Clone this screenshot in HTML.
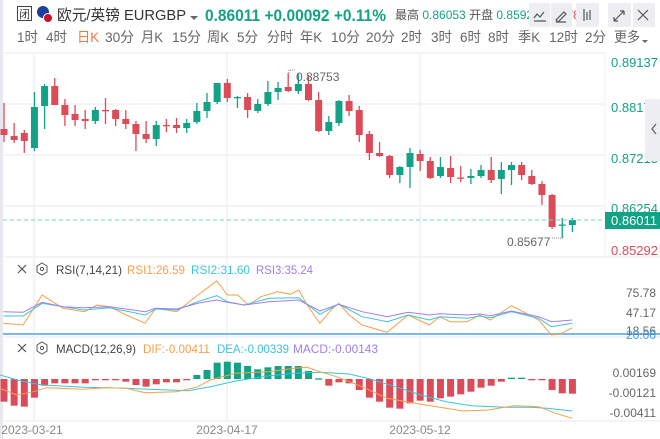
<!DOCTYPE html>
<html><head><meta charset="utf-8"><style>
body{margin:0;width:660px;height:439px;overflow:hidden;background:#fff;font-family:"Liberation Sans","Noto Sans CJK SC",sans-serif;}
svg{position:absolute;left:0;top:0}
</style></head><body>
<svg id="s" width="660" height="439" xmlns="http://www.w3.org/2000/svg" font-family="Liberation Sans, Noto Sans CJK SC, sans-serif">
<rect x="0" y="0" width="3" height="439" fill="#e6e8ee"/>
<rect x="17.5" y="6.5" width="14" height="14" fill="none" stroke="#444" stroke-width="1"/>
<text x="24.5" y="18" font-size="11" text-anchor="middle" fill="#333">闭</text>
<circle cx="43" cy="12" r="6" fill="#1d3f9a"/>
<circle cx="48" cy="18" r="4.5" fill="#c8102e" stroke="#fff" stroke-width="1"/>
<text x="57" y="20" font-size="15" fill="#333" textLength="129" lengthAdjust="spacingAndGlyphs">欧元/英镑 EURGBP</text>
<path d="M190 16 l4 4 l4 -4z" fill="#666"/>
<text x="205" y="21" font-size="17" font-weight="bold" fill="#12a386" textLength="181" lengthAdjust="spacingAndGlyphs">0.86011 +0.00092 +0.11%</text>
<text x="395" y="19" font-size="12" fill="#555">最高 <tspan fill="#12a386">0.86053</tspan> 开盘 <tspan fill="#12a386">0.85920</tspan> <tspan fill="#dc4b58">0.85784</tspan></text>
<g fill="#eceef2"><rect x="529" y="3" width="21" height="24" rx="2"/><rect x="551" y="3" width="21" height="24" rx="2"/><rect x="576" y="3" width="23" height="24" rx="2"/><rect x="608" y="3" width="23" height="24" rx="2"/><rect x="633" y="3" width="22" height="24" rx="2"/></g>
<g stroke="#555" stroke-width="1.2" fill="none"><path d="M534 18l3-4 3 3 4-5M534 21h12"/><path d="M556 20l8-8 2 2-8 8zM556 22h10"/><path d="M584 9v12M587 12v8M590 10v10"/><path d="M614 21l10-10M614 21v-4M614 21h4M624 11h-4M624 11v4"/><path d="M638 10l10 10M648 10l-10 10"/></g>
<g font-size="14" fill="#666" id="tabs"></g>
<g stroke="#eef0f4" stroke-width="1.5"><line x1="3" y1="53" x2="605" y2="53"/><line x1="3" y1="104" x2="605" y2="104"/><line x1="3" y1="155" x2="605" y2="155"/><line x1="3" y1="206" x2="605" y2="206"/><line x1="3" y1="257" x2="660" y2="257"/>
<line x1="34" y1="53" x2="34" y2="420"/><line x1="227" y1="53" x2="227" y2="420"/><line x1="420" y1="53" x2="420" y2="420"/><line x1="3" y1="337" x2="660" y2="337"/><line x1="3" y1="421" x2="660" y2="421"/></g>
<line x1="605" y1="53" x2="605" y2="257" stroke="#eef0f4"/>
<g id="candles"></g>
<line x1="3" y1="220" x2="605" y2="220" stroke="#6fd6c0" stroke-dasharray="4,3"/>
<rect x="605" y="212" width="55" height="17" fill="#12a386"/>
<text x="611" y="225" font-size="13" fill="#fff">0.86011</text>
<g font-size="13" fill="#12a386"><text x="611" y="67">0.89137</text><text x="611" y="112">0.88176</text><text x="611" y="163">0.87215</text><text x="611" y="213">0.86254</text></g>
<text x="611" y="255" font-size="13" fill="#dc4b58">0.85292</text>
<rect x="645" y="99" width="15" height="62" fill="#eceef2"/><path d="M656 124l-4 5 4 5" stroke="#666" fill="none" stroke-width="1.3"/>
<text x="296" y="81" font-size="12" fill="#666">0.88753</text><path d="M289 73v-3h6" stroke="#888" stroke-dasharray="1,1" fill="none"/>
<text x="507" y="246" font-size="12" fill="#666">0.85677</text><path d="M552 238h11v-2" stroke="#888" stroke-dasharray="1,1" fill="none"/>
<g font-size="12"><path d="M18 265l8 8M26 265l-8 8" stroke="#555" stroke-width="1.2"/><path d="M42 263l5 3v6l-5 3-5-3v-6z" fill="none" stroke="#555"/><circle cx="42" cy="269" r="1.6" fill="none" stroke="#555"/>
<text x="56" y="274" fill="#444" textLength="66" lengthAdjust="spacingAndGlyphs">RSI(7,14,21)</text><text x="127" y="274" fill="#f7a04b" textLength="58" lengthAdjust="spacingAndGlyphs">RSI1:26.59</text><text x="191" y="274" fill="#3cc3dc" textLength="59" lengthAdjust="spacingAndGlyphs">RSI2:31.60</text><text x="256" y="274" fill="#a27fe6" textLength="57" lengthAdjust="spacingAndGlyphs">RSI3:35.24</text>
<path d="M18 344l8 8M26 344l-8 8" stroke="#555" stroke-width="1.2"/><path d="M42 342l5 3v6l-5 3-5-3v-6z" fill="none" stroke="#555"/><circle cx="42" cy="348" r="1.6" fill="none" stroke="#555"/>
<text x="56" y="353" fill="#444" textLength="80" lengthAdjust="spacingAndGlyphs">MACD(12,26,9)</text><text x="143" y="353" fill="#f7a04b" textLength="67" lengthAdjust="spacingAndGlyphs">DIF:-0.00411</text><text x="217" y="353" fill="#3cc3dc" textLength="72" lengthAdjust="spacingAndGlyphs">DEA:-0.00339</text><text x="293" y="353" fill="#a27fe6" textLength="85" lengthAdjust="spacingAndGlyphs">MACD:-0.00143</text></g>
<line x1="3" y1="334" x2="660" y2="334" stroke="#7cb8ee" stroke-width="2"/>
<g font-size="12" fill="#666" text-anchor="end"><text x="656" y="297">75.78</text><text x="656" y="317">47.17</text><text x="656" y="335">18.56</text><text x="656" y="377">0.00169</text><text x="656" y="397">-0.00121</text><text x="656" y="417">-0.00411</text></g>
<text x="656" y="339" font-size="12" fill="#3ca0ee" text-anchor="end">20.00</text>
<g id="ind"></g>
<g font-size="12" fill="#888" text-anchor="middle"><text x="32" y="434">2023-03-21</text><text x="227" y="434">2023-04-17</text><text x="420" y="434">2023-05-12</text></g>
</svg>
<script>
const NS="http://www.w3.org/2000/svg";
function el(p,t,a,txt){const e=document.createElementNS(NS,t);for(const k in a)e.setAttribute(k,a[k]);if(txt)e.textContent=txt;p.appendChild(e);return e;}
const tabs=[["1时",17],["4时",46],["日K",77],["30分",105],["月K",141],["15分",172],["周K",207],["5分",237],["分时",267],["年K",300],["10分",331],["20分",366],["2时",401],["3时",431],["6时",460],["8时",488],["季K",518],["12时",549],["2分",585],["更多",614]];
const tg=document.getElementById("tabs");
tabs.forEach(([t,x])=>{let w=0;for(const ch of t){w+=/\d/.test(ch)?8:(ch=="K"?9:13);}el(tg,"text",{x:x,y:42,fill:t=="日K"?"#f5753c":"#666",textLength:w,lengthAdjust:"spacingAndGlyphs"},t)});
el(tg,"path",{d:"M642 40l3 3 3-3z",fill:"#666"});
const C=[["r",103,142,129,135],["r",123,143,136,140],["r",130,153,133,141],["g",92,151,107,148],["g",84,129,86,106],["r",78,105,86,105],["r",99,126,105,115],["r",105,126,114,120],["r",110,129,119,121],["g",107,124,110,121],["r",98,124,110,111],["r",109,126,110,119],["r",110,129,119,124],["r",121,151,124,134],["r",121,143,134,139],["g",121,146,125,139],["r",119,132,125,126],["r",118,133,125,128],["g",119,133,123,128],["g",103,124,111,122],["g",93,118,102,111],["g",83,104,83,102],["r",79,102,83,98],["g",96,108,97,98],["r",93,118,97,110],["g",99,113,104,111],["g",81,106,92,104],["g",82,100,88,92],["r",73,92,87,91],["g",74,94,84,91],["r",75,101,84,100],["r",92,132,100,131],["g",116,135,122,131],["g",100,126,101,123],["r",95,116,101,111],["r",106,142,110,135],["r",131,160,134,153],["r",142,157,153,156],["r",155,178,156,175],["g",166,183,167,175],["g",148,188,153,167],["r",150,171,154,161],["r",157,179,161,178],["g",157,178,167,176],["r",156,183,168,177],["r",166,182,177.5,178.5],["g",169,184,176,178],["g",165,178,170,176],["r",157,183,170,180],["g",162,194,170,179],["g",162,185,165,170],["r",162,180,165,175],["r",170,185,176,184],["r",181,205,184,195],["r",194,229,195,227],["g",218,238,224.5,225.5],["g",218,232,220,225]];
const G="#12a386",R="#dc4b58";
const cg=document.getElementById("candles");
const X=i=>4+10.15*i;
C.forEach((c,i)=>{const x=X(i),col=c[0]=="g"?G:R;
el(cg,"line",{x1:x,x2:x,y1:c[1],y2:c[2],stroke:col,"stroke-width":1.3});
el(cg,"rect",{x:x-3.5,y:c[3],width:7,height:Math.max(1.3,c[4]-c[3]),fill:col});});
const ig=document.getElementById("ind");
const B=[440,452,455,428,392,385,385,385,385,375,375,375,380,390,395,388,382,382,375,360,345,323,320,323,333,343,337,333,333,333,348,370,392,382,385,405,428,440,458,461,445,437,440,430,425,418,410,398,392,380,368,368,372,375,405,415,416];
B.forEach((v,i)=>{const y=255+v/3,x=X(i),z=379;const col=(i>=19&&i<=31)||i==50||i==51?G:R;
const t=Math.min(y,z),h=Math.max(1.3,Math.abs(y-z));el(ig,"rect",{x:x-3.5,y:t,width:7,height:h,fill:col});});
function line(pts,col){el(ig,"polyline",{points:pts.map(p=>(p[0]/2.376).toFixed(1)+","+(255+p[1]/3).toFixed(1)).join(" "),fill:"none",stroke:col,"stroke-width":1});}
line([[8,205],[55,210],[100,120],[150,160],[200,170],[230,150],[260,155],[300,180],[345,205],[370,160],[420,170],[470,120],[515,78],[540,120],[565,120],[590,150],[620,125],[660,110],[690,118],[710,105],[730,150],[760,205],[790,160],[805,145],[830,180],[860,210],[920,232],[970,180],[1020,210],[1045,185],[1070,200],[1110,200],[1140,180],[1165,195],[1215,152],[1250,175],[1280,195],[1310,240],[1330,238],[1360,218]],"#f7a04b");
line([[8,183],[55,183],[100,145],[150,155],[200,165],[260,158],[345,180],[370,162],[420,165],[470,140],[515,122],[540,140],[580,150],[640,130],[710,128],[760,178],[805,147],[860,185],[920,200],[970,180],[1020,195],[1045,185],[1110,190],[1140,183],[1165,188],[1215,170],[1280,190],[1310,215],[1360,205]],"#3cc3dc");
line([[8,170],[55,172],[100,142],[150,155],[200,158],[260,155],[345,170],[370,160],[420,162],[470,145],[515,135],[540,142],[580,150],[640,140],[710,135],[760,168],[805,148],[860,170],[920,185],[970,172],[1020,180],[1045,176],[1110,180],[1140,177],[1165,182],[1215,168],[1280,185],[1310,200],[1360,195]],"#a27fe6");
line([[0,360],[50,378],[100,390],[200,397],[300,400],[400,405],[445,407],[500,395],[560,378],[640,362],[700,355],[760,352],[830,357],[880,372],[940,395],[1000,420],[1060,440],[1120,452],[1200,457],[1260,457],[1300,460],[1360,468]],"#3cc3dc");
line([[0,400],[40,420],[80,410],[110,398],[200,403],[250,398],[300,400],[345,413],[420,410],[470,395],[500,375],[560,355],[640,350],[700,340],[730,337],[760,350],[800,365],[860,395],[920,430],[1000,448],[1060,460],[1100,468],[1160,465],[1220,452],[1280,455],[1320,475],[1360,490]],"#f7a04b");
</script>
</body></html>
